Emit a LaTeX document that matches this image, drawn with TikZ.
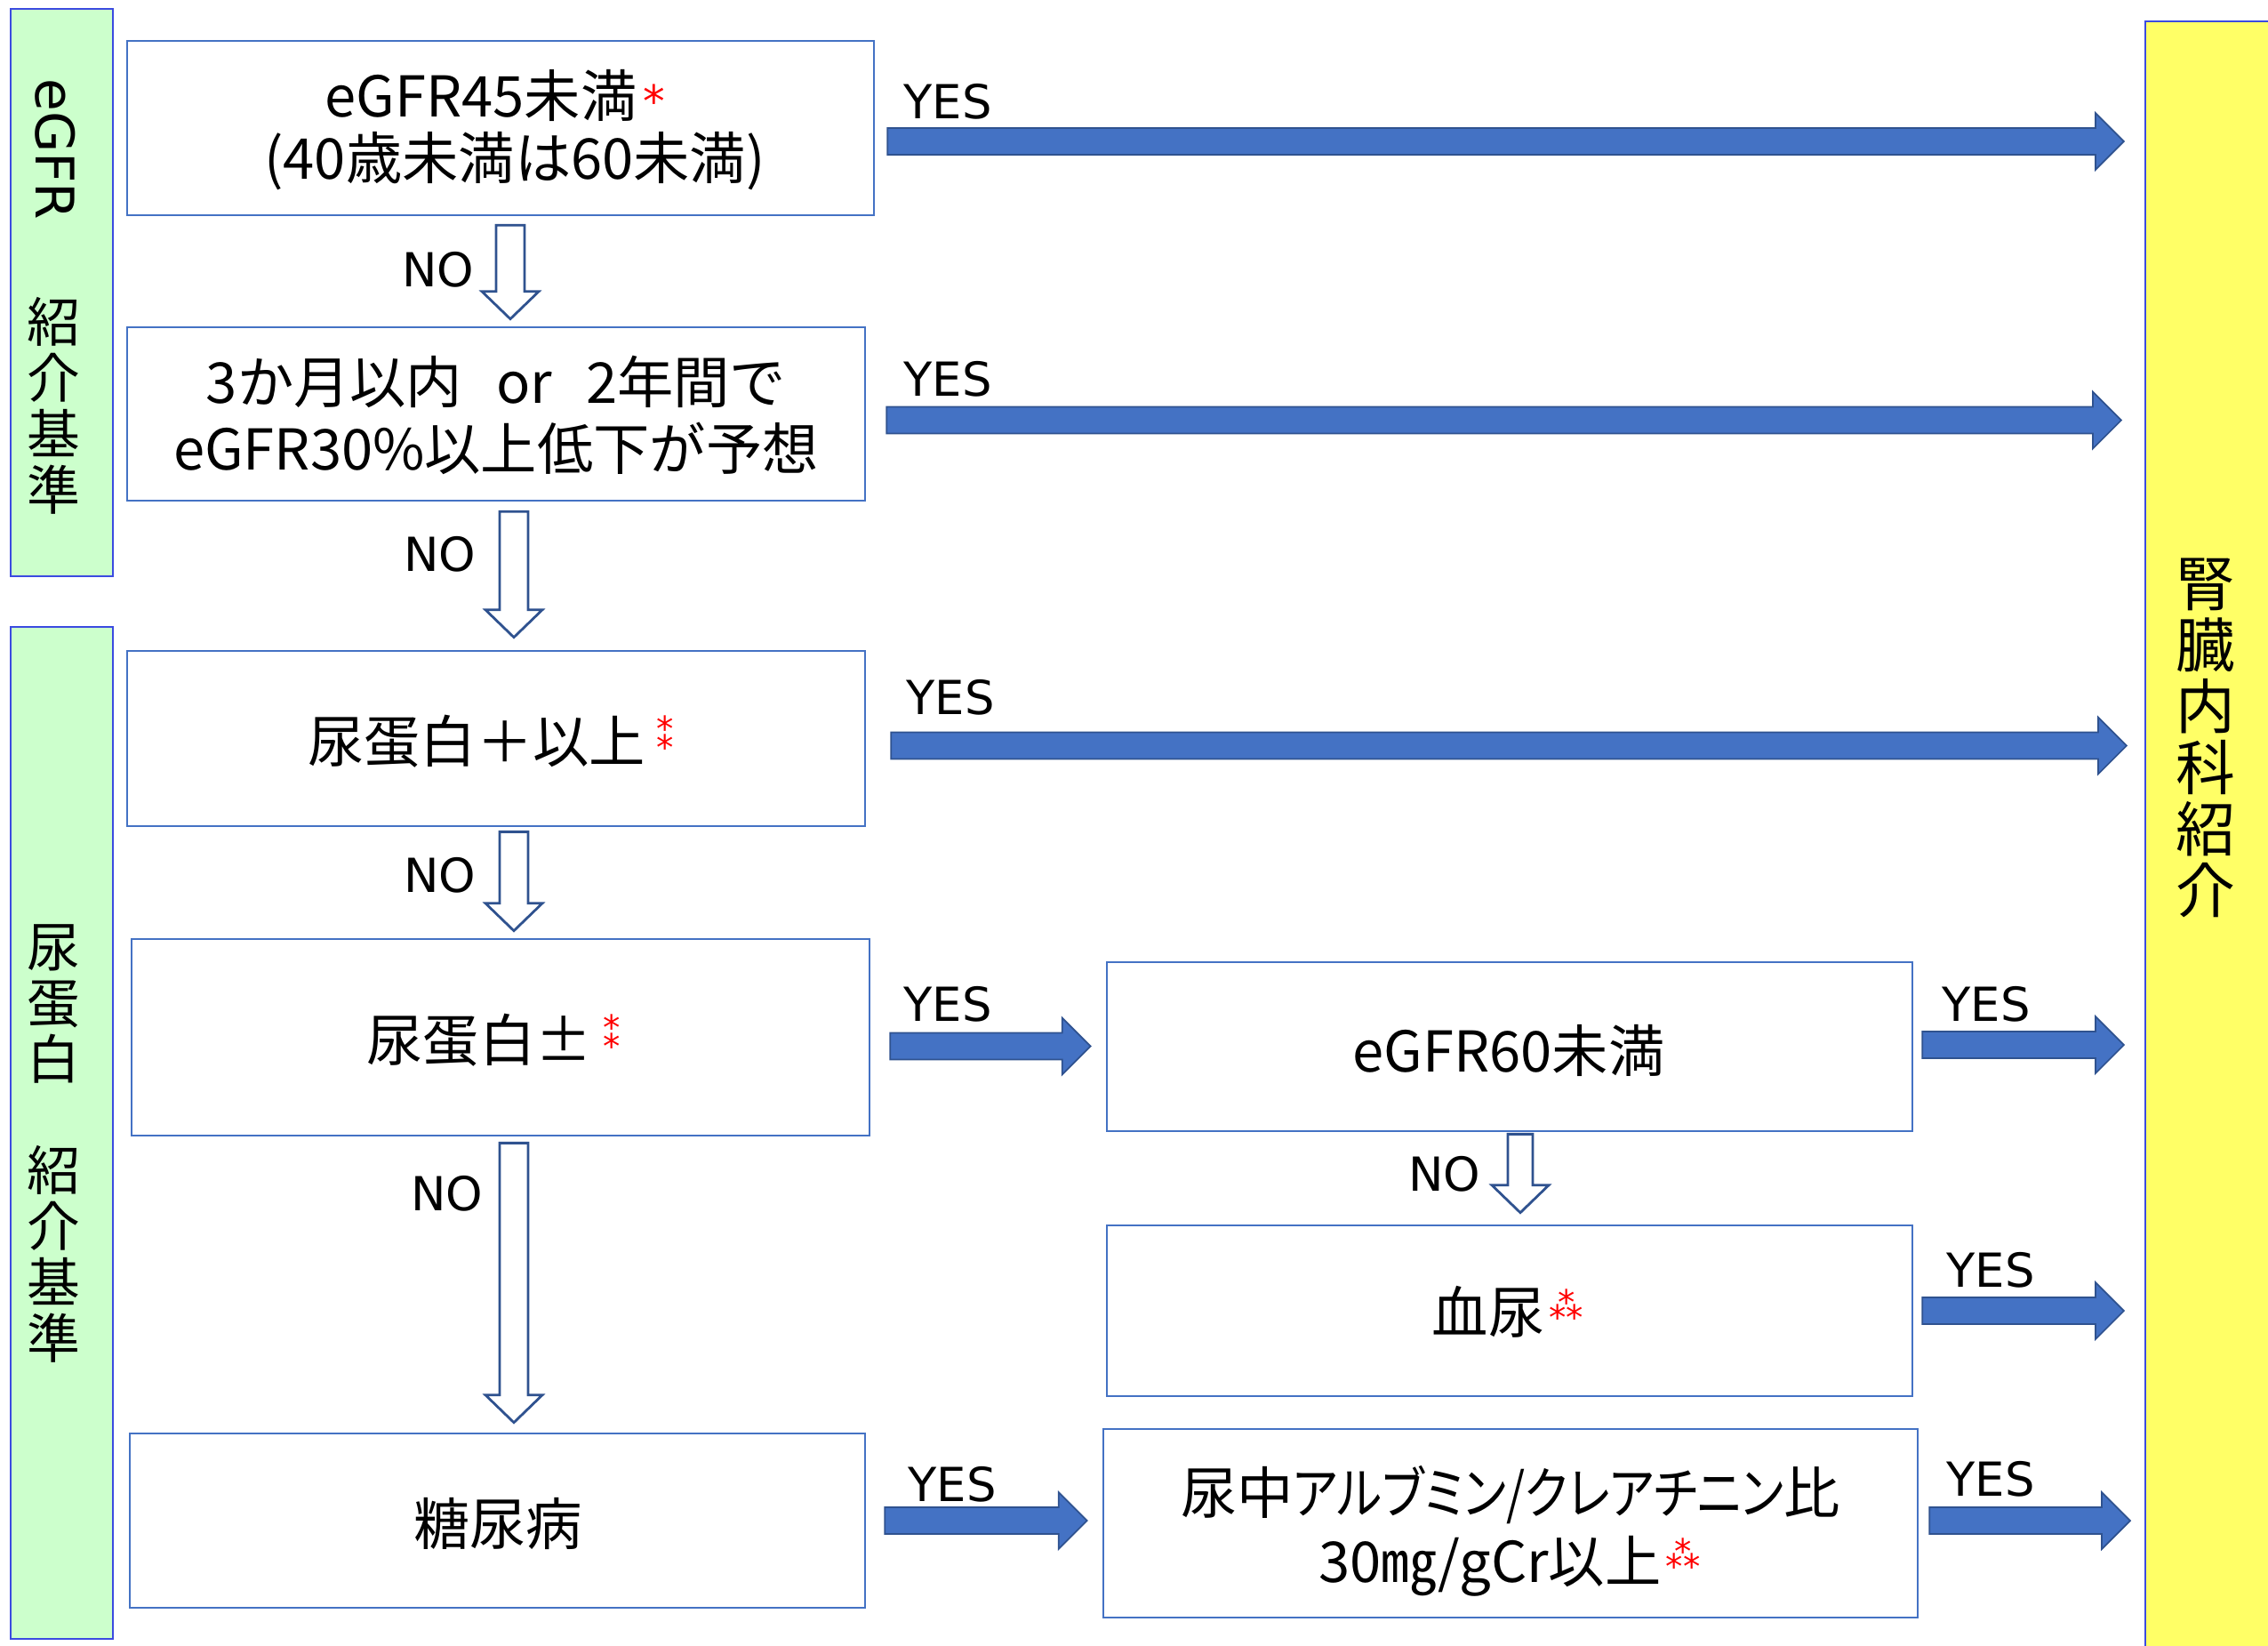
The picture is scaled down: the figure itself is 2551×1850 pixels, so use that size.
\documentclass[tikz,border=0pt]{standalone}
\usepackage{fontspec}
\usepackage{calc}
\setmainfont{Noto Sans CJK JP}
\newfontfamily\ynfont{DejaVu Sans}
\newfontfamily\paltfont[RawFeature=+palt]{Noto Sans CJK JP}
\usetikzlibrary{calc,fit}
\definecolor{boxblue}{HTML}{4472C4}
\definecolor{arrline}{HTML}{2F528F}
\definecolor{sidegreen}{HTML}{CCFFCC}
\definecolor{sideyellow}{HTML}{FFFF66}
\definecolor{sideline}{HTML}{3B4BE0}

% red asterisks
\newcommand\redA{\hspace{2pt}\textcolor{red}{\ynfont\fontsize{14}{14}\selectfont *}}
\newcommand\redB{\hspace{3.5pt}\textcolor{red}{\ynfont\fontsize{11}{11}\selectfont\rlap{\raisebox{6.6pt}{*}}\raisebox{0.6pt}{*}}}
\newcommand\redC{\hspace{1.5pt}\textcolor{red}{\ynfont\fontsize{11}{11}\selectfont\rlap{\makebox[\widthof{**}]{\raisebox{5.8pt}{*}}}\raisebox{0.9pt}{**}}}

\newcommand\yesarrow[2]{%
  \draw[yesarr] let \p1=(#1), \p2=(#2) in
    (\x1,\y1+4.27pt) -- (\x2-9.1pt,\y1+4.27pt) -- (\x2-9.1pt,\y1+9.1pt) -- (\x2,\y1)
    -- (\x2-9.1pt,\y1-9.1pt) -- (\x2-9.1pt,\y1-4.27pt) -- (\x1,\y1-4.27pt) -- cycle;}
\newcommand\noarrow[3]{%
  \draw[noarr] let \p1=(#1), \p2=(#2) in
    (\x1-#3,\y1) -- (\x1+#3,\y1) -- (\x1+#3,\y2+8.8pt) -- (\x1+9.1pt,\y2+8.8pt) -- (\x1,\y2)
    -- (\x1-9.1pt,\y2+8.8pt) -- (\x1-#3,\y2+8.8pt) -- cycle;}

\begin{document}
\begin{tikzpicture}[x=0.01cm,y=-0.01cm,
  box/.style={draw=boxblue, line width=0.75pt, fill=white, inner sep=0pt},
  txt/.style={anchor=base, inner sep=0pt, font=\fontsize{18}{21.3}\selectfont},
  side/.style={draw=sideline, line width=0.6pt, inner sep=0pt},
  yesarr/.style={fill=boxblue, draw=arrline, line width=0.5pt},
  noarr/.style={fill=white, draw=arrline, line width=0.8pt},
  lbl/.style={font=\ynfont\fontsize{15}{15}\selectfont, inner sep=0pt},
  vtext/.style={font=\fontsize{17}{17.9}\selectfont, align=center, inner sep=0pt}
]
\useasboundingbox (0,0) rectangle (2551,1850);

% side bands
\node[side, fill=sidegreen, fit={(12,10) (127,648)}] (g1) {};
\node[side, fill=sidegreen, fit={(12,705) (127,1843)}] (g2) {};
\node[side, fill=sideyellow, fit={(2413,24) (2575,1875)}] (yel) {};
\node[font=\ynfont\fontsize{17}{17}\selectfont, rotate=-90, inner sep=0pt] (g1a) at (62,168) {eGFR};
\node[vtext] (g1b) at (60,456) {紹\\介\\基\\準};
\node[vtext] (g2a) at (60,1286) {尿\\蛋\\白\\　\\紹\\介\\基\\準};
\node[vtext, font=\fontsize{19}{19.6}\selectfont] (yl) at (2481,830) {腎\\臓\\内\\科\\紹\\介};

% boxes
\node[box, fit={(143,46) (983,242)}] (b1) {};
\node[box, fit={(143,368) (973,563)}] (b2) {};
\node[box, fit={(143,732) (973,929)}] (b3) {};
\node[box, fit={(148,1056) (978,1277)}] (b4) {};
\node[box, fit={(1245,1082) (2151,1272)}] (b5) {};
\node[box, fit={(1245,1378) (2151,1570)}] (b6) {};
\node[box, fit={(146,1612) (973,1808)}] (b7) {};
\node[box, fit={(1241,1607) (2157,1819)}] (b8) {};

% box texts
\node[txt] (t1a) at (557,131) {eGFR45未満\redA};
\node[txt] (t1b) at (579,201) {(40歳未満は60未満)};
\node[txt] (t2a) at (558,453) {3か月以内\hspace{0.6em}or\hspace{0.6em}2年間で};
\node[txt] (t2b) at (558,528) {eGFR30\%以上低下が予想};
\node[txt] (t3) at (552,857) {尿蛋白＋以上\redB};
\node[txt] (t4) at (555,1193) {尿蛋白±\redB};
\node[txt] (t5) at (1697,1205) {eGFR60未満};
\node[txt] (t6) at (1696,1499) {血尿\redC};
\node[txt] (t7) at (560,1737) {糖尿病};
\node[txt] (t8a) at (1699,1702) {\paltfont 尿中\scalebox{0.85}[1]{アルブミン/クレアチニン}比};
\node[txt] (t8b) at (1698,1779) {30㎎/gCr以上\redC};

% YES arrows
\yesarrow{$(b1.east)+(14,15)$}{$(yel.west)+(-23,0)$}
\yesarrow{$(b2.east)+(23,7)$}{$(yel.west)+(-26,0)$}
\yesarrow{$(b3.east)+(28,8)$}{$(yel.west)+(-20,0)$}
\yesarrow{$(b4.east)+(22,10)$}{$(b5.west)+(-17,0)$}
\yesarrow{$(b5.east)+(10,-2)$}{$(yel.west)+(-23,0)$}
\yesarrow{$(b6.east)+(10,0)$}{$(yel.west)+(-23,0)$}
\yesarrow{$(b7.east)+(21,0)$}{$(b8.west)+(-17,0)$}
\yesarrow{$(b8.east)+(12,-3)$}{$(yel.west)+(-16,0)$}

% NO arrows
\noarrow{$(b1.south)+(11,10)$}{$(b2.north)+(0,-8)$}{4.55pt}
\noarrow{$(b2.south)+(20,11)$}{$(b3.north)+(0,-14)$}{4.55pt}
\noarrow{$(b3.south)+(20,5)$}{$(b4.north)+(0,-8)$}{4.55pt}
\noarrow{$(b4.south)+(15,7)$}{$(b7.north)+(0,-11)$}{4.55pt}
\noarrow{$(b5.south)+(12,2)$}{$(b6.north)+(0,-13)$}{4pt}

% labels
\node[lbl] (y1) at (1066,114) {YES};
\node[lbl] (y2) at (1066,426) {YES};
\node[lbl] (y3) at (1069,784) {YES};
\node[lbl] (y4) at (1066,1129) {YES};
\node[lbl] (y5) at (2234,1129) {YES};
\node[lbl] (y6) at (2239,1428) {YES};
\node[lbl] (y7) at (1071,1669) {YES};
\node[lbl] (y8) at (2239,1663) {YES};
\node[lbl] (n1) at (493,303) {NO};
\node[lbl] (n2) at (495,623) {NO};
\node[lbl] (n3) at (495,984) {NO};
\node[lbl] (n4) at (503,1342) {NO};
\node[lbl] (n5) at (1625,1320) {NO};
\end{tikzpicture}
\end{document}
